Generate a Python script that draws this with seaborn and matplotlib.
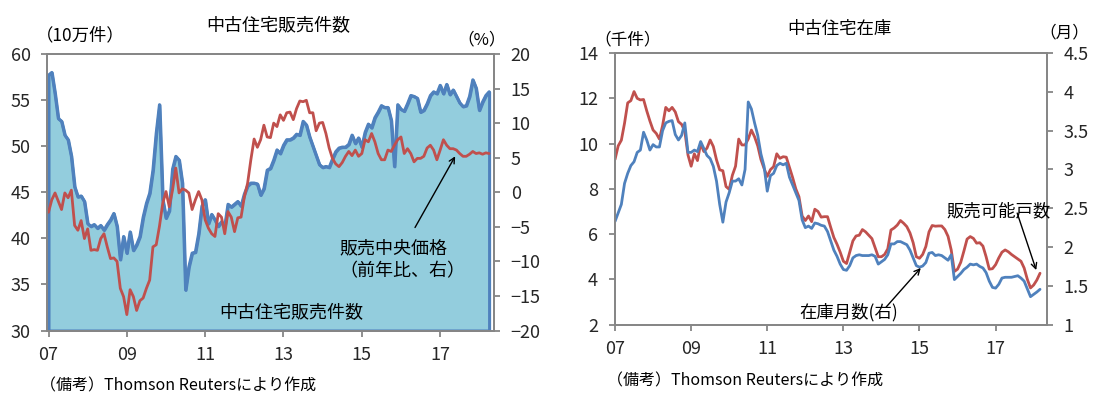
import numpy as np
import matplotlib
matplotlib.use("Agg")
import matplotlib.pyplot as plt
from matplotlib.ticker import FuncFormatter
import seaborn as sns

# === データ (月次, 2007年1月から) ===
# 中古住宅販売件数 (10万件)
sales = [
    57.7, 58.0, 55.7, 53.0, 52.7, 51.2, 50.7, 48.9, 45.6, 44.5, 44.6, 44.0,
    41.6, 41.3, 41.5, 41.1, 41.4, 40.9, 41.5, 42.0, 42.7, 41.3, 37.7, 40.2,
    38.4, 40.7, 38.7, 39.3, 40.2, 42.3, 43.8, 44.9, 47.4, 51.4, 54.5, 44.2,
    42.2, 43.0, 47.5, 48.9, 48.5, 46.0, 34.4, 36.9, 38.4, 38.5, 40.5, 43.5,
    44.2, 41.6, 42.6, 42.0, 41.3, 41.8, 41.3, 43.7, 43.4, 43.7, 44.0, 43.5,
    44.8, 45.7, 46.0, 46.0, 45.9, 44.7, 45.4, 47.4, 47.6, 48.5, 49.6, 49.2,
    50.1, 50.7, 50.7, 50.9, 51.3, 51.2, 52.7, 52.3, 51.0, 50.0, 49.0, 48.0,
    47.7, 47.8, 47.7, 48.6, 49.4, 49.8, 49.9, 49.9, 50.2, 51.2, 50.3, 50.9,
    49.9, 51.5, 52.4, 52.0, 53.1, 53.7, 54.4, 54.2, 54.2, 52.8, 47.8, 54.5,
    54.0, 53.8, 54.6, 55.5, 55.4, 55.2, 53.7, 53.9, 54.6, 55.5, 55.9, 55.7,
    56.6, 55.7, 56.7, 55.6, 56.1, 55.4, 54.7, 54.3, 54.4, 55.4, 57.2, 56.3,
    53.9, 54.8, 55.5, 55.9,
]
# 販売中央価格 前年比 (%)
price_yoy = [
    -2.9, -1.1, -0.1, -1.3, -2.5, -0.1, -0.8, 0.3, -4.8, -5.5, -4.1, -6.7,
    -5.3, -8.4, -8.3, -8.4, -6.7, -6.0, -7.9, -9.6, -9.5, -10.0, -13.9, -15.1,
    -17.7, -14.1, -15.1, -17.1, -15.7, -15.3, -13.9, -12.7, -7.9, -7.6, -4.9, -1.6,
    0.1, -2.1, 0.3, 3.5, -0.1, 0.5, 0.3, -0.1, -2.5, -1.1, 0.1, -1.1,
    -4.0, -5.2, -6.0, -6.4, -3.1, -3.6, -6.0, -2.8, -3.6, -5.7, -3.7, -3.6,
    -0.7, 1.3, 4.7, 7.7, 6.5, 7.6, 9.7, 8.0, 7.9, 10.0, 9.5, 11.2,
    10.4, 11.5, 11.6, 10.5, 12.1, 13.2, 13.1, 13.3, 11.5, 11.5, 8.9, 10.0,
    10.1, 8.5, 6.4, 4.9, 4.1, 3.7, 4.3, 5.2, 5.9, 5.3, 6.1, 5.2,
    5.6, 7.6, 7.3, 8.5, 7.3, 5.6, 4.7, 4.7, 6.1, 5.9, 6.8, 7.6,
    8.0, 5.6, 6.3, 5.6, 4.4, 4.9, 4.9, 5.2, 6.4, 6.8, 6.1, 4.7,
    6.1, 7.6, 6.8, 6.3, 6.3, 6.1, 5.6, 5.2, 5.2, 5.5, 5.9, 5.6,
    5.7, 5.5, 5.7, 5.6,
]
# 販売可能戸数 (千件)
inventory = [
    9.3, 9.9, 10.15, 10.9, 11.8, 11.9, 12.3, 12.0, 11.93, 11.95, 11.45, 11.0,
    10.6, 10.45, 10.2, 10.8, 11.6, 11.45, 11.6, 11.4, 10.97, 10.85, 10.55, 9.5,
    9.0, 9.55, 9.25, 10.0, 9.65, 9.8, 10.16, 9.87, 9.28, 8.84, 8.8, 8.1,
    7.98, 8.6, 9.0, 10.2, 9.94, 9.94, 10.2, 10.6, 10.3, 9.9, 9.3, 8.9,
    8.55, 8.85, 8.98, 9.55, 9.35, 9.42, 9.40, 8.95, 8.5, 8.0, 7.65, 6.8,
    6.6, 6.8, 6.55, 7.1, 7.0, 6.75, 6.77, 6.77, 6.3, 5.85, 5.55, 5.2,
    4.8, 4.7, 5.2, 5.7, 5.92, 5.95, 6.2, 6.1, 5.95, 5.8, 5.4, 5.0,
    5.0, 5.1, 5.35, 6.18, 6.27, 6.4, 6.6, 6.48, 6.33, 6.05, 5.62, 5.0,
    4.93, 5.1, 5.45, 6.1, 6.38, 6.35, 6.36, 6.36, 6.2, 5.9, 5.3, 4.35,
    4.45, 4.75, 5.25, 5.78, 5.89, 5.81, 5.6, 5.62, 5.47, 5.0, 4.45, 4.47,
    4.65, 4.95, 5.2, 5.30, 5.22, 5.1, 5.0, 4.9, 4.8, 4.5, 4.0, 3.62,
    3.75, 3.97, 4.27,
]
# 在庫月数 (月, 右軸)
months_supply = [
    2.33, 2.44, 2.55, 2.82, 2.95, 3.05, 3.10, 3.22, 3.25, 3.48, 3.38, 3.25,
    3.32, 3.29, 3.29, 3.50, 3.60, 3.62, 3.63, 3.45, 3.38, 3.44, 3.60, 3.22,
    3.22, 3.25, 3.23, 3.36, 3.27, 3.18, 3.14, 3.04, 2.85, 2.55, 2.32, 2.58,
    2.70, 2.85, 2.85, 2.88, 2.80, 3.00, 3.87, 3.78, 3.60, 3.44, 3.20, 3.04,
    2.72, 2.92, 2.95, 3.05, 3.08, 3.06, 3.08, 2.90, 2.80, 2.70, 2.60, 2.35,
    2.25, 2.27, 2.24, 2.31, 2.30, 2.28, 2.27, 2.20, 2.08, 1.96, 1.88, 1.78,
    1.71, 1.70, 1.76, 1.86, 1.89, 1.90, 1.89, 1.89, 1.89, 1.90, 1.88, 1.78,
    1.81, 1.84, 1.90, 2.04, 2.04, 2.07, 2.07, 2.05, 2.03, 1.96, 1.86, 1.76,
    1.74, 1.755, 1.80, 1.92, 1.93, 1.89, 1.90, 1.89, 1.86, 1.83, 1.90, 1.58,
    1.62, 1.66, 1.71, 1.74, 1.78, 1.77, 1.78, 1.75, 1.73, 1.67, 1.56, 1.48,
    1.47, 1.52, 1.60, 1.61, 1.61, 1.61, 1.62, 1.63, 1.60, 1.56, 1.46, 1.36,
    1.39, 1.42, 1.455,
]
year_labels = ["07", "09", "11", "13", "15", "17"]

BLUE = "#4F81BD"
RED = "#C0504D"
FILL = "#93CDDD"
GRAY = "#868686"

sns.set_style("white")
plt.rcParams["font.family"] = ["Noto Sans CJK JP", "DejaVu Sans"]

W, H = 1093, 394
fig = plt.figure(figsize=(W / 100, H / 100), dpi=100)


def px_axes(l, t, r, b):
    return fig.add_axes([l / W, 1 - b / H, (r - l) / W, (b - t) / H])


def px_text(x, y, s, size=13, **kw):
    fig.text(x / W, 1 - y / H, s, fontsize=size, color="black", **kw)


def style_axes(ax, n):
    for sp in ax.spines.values():
        sp.set_color(GRAY)
        sp.set_linewidth(1.3)
    ax.set_xlim(-0.37, n)
    ax.set_xticks(np.arange(0, 121, 24))
    ax.set_xticklabels(year_labels)
    ax.tick_params(axis="x", bottom=True, direction="out", length=4,
                   width=1.3, color=GRAY, pad=7, labelsize=13)
    ax.tick_params(axis="y", left=True, direction="out", length=4,
                   width=1.3, color=GRAY, pad=8, labelsize=13)
    ax.set_xlabel("")
    ax.set_ylabel("")


def style_twin(ax):
    for sp in ax.spines.values():
        sp.set_color(GRAY)
        sp.set_linewidth(1.3)
    ax.tick_params(axis="y", right=True, direction="out", length=4,
                   width=1.3, color=GRAY, pad=8, labelsize=13)
    ax.set_ylabel("")


# ---- 左: 中古住宅販売件数 ----
m_left = np.arange(len(sales))
ax1 = px_axes(47.3, 54, 494, 330.5)
ax1.fill_between(m_left, sales, 30, facecolor=FILL, edgecolor=BLUE, linewidth=2.2)
sns.lineplot(x=m_left, y=sales, ax=ax1, color=BLUE, linewidth=2.2)
ax1.set_ylim(30, 60)
ax1.set_yticks(np.arange(30, 61, 5))
style_axes(ax1, 136.5)

ax2 = ax1.twinx()
sns.lineplot(x=m_left, y=price_yoy, ax=ax2, color=RED, linewidth=2.0)
ax2.set_ylim(-20, 20)
ax2.set_yticks(np.arange(-20, 21, 5))
style_twin(ax2)
ax2.annotate("", xy=(124.6, 5.2), xytext=(112.3, -5.1),
             arrowprops=dict(arrowstyle="->", color="black", lw=1.0,
                             shrinkA=0, shrinkB=0))

px_text(278, 26, "中古住宅販売件数", ha="center", va="center")
px_text(80, 35, "（10万件）", size=12.5, ha="center", va="center")
px_text(482, 40, "（%）", size=12, ha="center", va="center")
px_text(339, 259.5, "販売中央価格\n（前年比、右）", ha="left", va="center",
        linespacing=1.35)
px_text(291, 313, "中古住宅販売件数", ha="center", va="center")
px_text(40, 386, "（備考）Thomson Reutersにより作成", size=11.5, ha="left", va="center")

# ---- 右: 中古住宅在庫 ----
m_right = np.arange(len(inventory))
ax3 = px_axes(614.7, 53.1, 1047, 324.6)
sns.lineplot(x=m_right, y=inventory, ax=ax3, color=RED, linewidth=2.0)
ax3.set_ylim(2, 14)
ax3.set_yticks(np.arange(2, 15, 2))
style_axes(ax3, 136.2)
ax3.set_xlim(-0.1, 136.2)
ax3.annotate("", xy=(132.8, 4.41), xytext=(126.8, 6.93),
             arrowprops=dict(arrowstyle="->", color="black", lw=1.0,
                             shrinkA=0, shrinkB=0))

ax4 = ax3.twinx()
sns.lineplot(x=m_right, y=months_supply, ax=ax4, color=BLUE, linewidth=2.0)
ax4.set_ylim(1, 4.5)
ax4.set_yticks(np.arange(1, 4.51, 0.5))
ax4.yaxis.set_major_formatter(FuncFormatter(lambda v, p: f"{v:g}"))
style_twin(ax4)
ax4.annotate("", xy=(96.4, 1.73), xytext=(85.5, 1.227),
             arrowprops=dict(arrowstyle="->", color="black", lw=1.0,
                             shrinkA=0, shrinkB=0))

px_text(839, 29, "中古住宅在庫", size=12.5, ha="center", va="center")
px_text(628, 40, "（千件）", size=12, ha="center", va="center")
px_text(1064, 33, "（月）", size=12, ha="center", va="center")
px_text(999, 211, "販売可能戸数", size=12.5, ha="center", va="center")
px_text(849, 312, "在庫月数(右)", size=12.5, ha="center", va="center")
px_text(607, 381, "（備考）Thomson Reutersにより作成", size=11.5, ha="left", va="center")

fig.savefig("out.png", dpi=100)
